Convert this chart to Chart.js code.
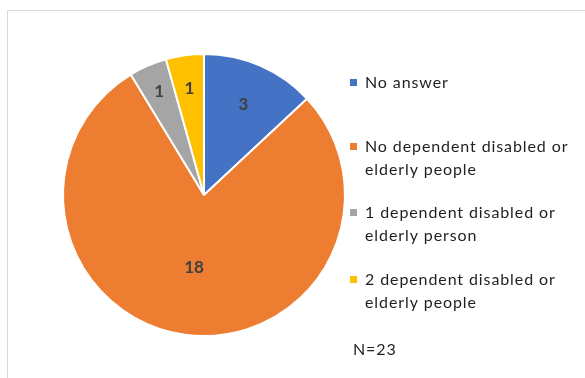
<!DOCTYPE html>
<html>
<head>
<meta charset="utf-8">
<script src="https://cdn.jsdelivr.net/npm/chart.js@4.4.1/dist/chart.umd.min.js"></script>
<style>
  html, body { margin: 0; padding: 0; background: #fff; }
  #wrap { width: 585px; height: 378px; position: relative; }
</style>
</head>
<body>
<div id="wrap"><canvas id="chart" width="585" height="378"></canvas></div>
<script>
// datos del grafico
const categories = [
    ['No answer'],
    ['No dependent disabled or', 'elderly people'],
    ['1 dependent disabled or', 'elderly person'],
    ['2 dependent disabled or', 'elderly people']
];
const values = [3, 18, 1, 1];
const colors = ['#4472C4', '#ED7D31', '#A5A5A5', '#FFC000'];
const note = 'N=23';

const FONT = 'Lato, "Open Sans", sans-serif';

// borde, etiquetas, leyenda y nota
const extras = {
    id: 'extras',
    beforeDraw(chart) {
        const ctx = chart.ctx;
        ctx.save();
        ctx.strokeStyle = '#d9d9d9';
        ctx.lineWidth = 1;
        ctx.beginPath();
        ctx.moveTo(7.5, 378);
        ctx.lineTo(7.5, 10.5);
        ctx.lineTo(585, 10.5);
        ctx.stroke();
        ctx.restore();
    },
    afterDatasetsDraw(chart) {
        const ctx = chart.ctx;
        const meta = chart.getDatasetMeta(0);
        const fracs = [0.7, 0.52, 0.8, 0.76];
        ctx.save();
        ctx.fillStyle = '#404040';
        ctx.font = 'bold 17px ' + FONT;
        ctx.textAlign = 'center';
        ctx.textBaseline = 'middle';
        meta.data.forEach((arc, i) => {
            const mid = (arc.startAngle + arc.endAngle) / 2;
            const r = arc.outerRadius * fracs[i];
            ctx.fillText(String(values[i]), arc.x + Math.cos(mid) * r, arc.y + Math.sin(mid) * r);
        });

        // leyenda
        const ys = [83, 147, 213, 280];
        ctx.font = '16px ' + FONT;
        ctx.letterSpacing = '0.9px';
        ctx.textAlign = 'left';
        categories.forEach((lines, i) => {
            ctx.fillStyle = colors[i];
            ctx.fillRect(350, ys[i] - 4, 7, 7);
            ctx.fillStyle = '#1f1f1f';
            lines.forEach((t, j) => ctx.fillText(t, 365, ys[i] + j * 23));
        });
        ctx.fillText(note, 353, 350);
        ctx.restore();
    }
};

new Chart(document.getElementById('chart'), {
    type: 'pie',
    data: {
        labels: categories,
        datasets: [{
            data: values,
            backgroundColor: colors,
            borderColor: '#ffffff',
            borderWidth: 2
        }]
    },
    options: {
        responsive: false,
        animation: false,
        layout: { padding: { left: 62, right: 239, top: 52, bottom: 40 } },
        plugins: {
            legend: { display: false },
            tooltip: { enabled: false }
        }
    },
    plugins: [extras]
});
</script>
</body>
</html>
